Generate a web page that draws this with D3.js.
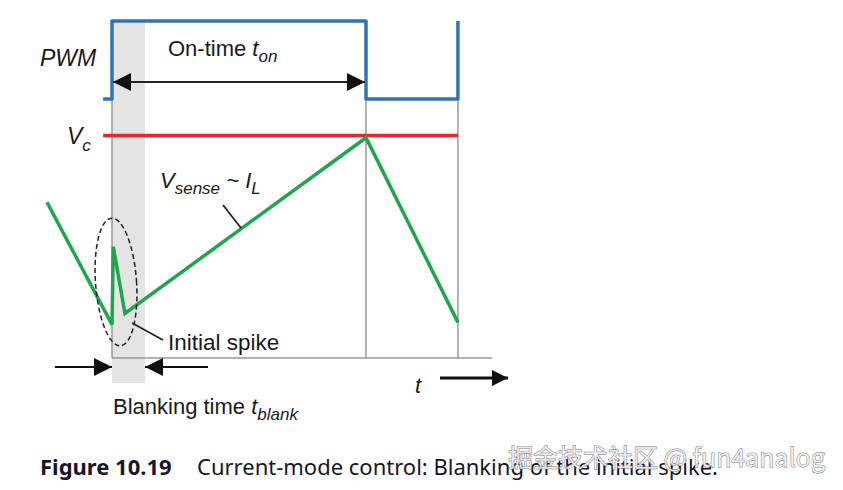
<!DOCTYPE html>
<html>
<head>
<meta charset="utf-8">
<script src="https://cdn.jsdelivr.net/npm/d3@7"></script>
<style>
  body { margin: 0; background: #fff; }
  svg text { font-family: "Liberation Sans", Arial, sans-serif; }
</style>
</head>
<body>
<div id="chart"></div>
<script>
// time is in units of the on-time (0 = switch on, 1 = switch off)
var pwmTime  = [-0.035, 0, 0, 1, 1, 1.362, 1.362],
    pwmLevel = [0, 0, 1, 1, 0, 0, 1];

var senseTime  = [-0.256, 0, 0.005, 0.051, 1, 1.362],
    senseLevel = [0.70, 0.15, 0.50, 0.20, 0.99, 0.16];

var vcLevel   = 1,
    vcSpan    = [-0.035, 1.362],
    gridTimes = [1, 1.362],
    blankSpan = [0, 0.13],
    axisSpan  = [0, 1.496];

var width = 843, height = 490;

var svg = d3.select("#chart").append("svg")
    .attr("width", width).attr("height", height);

var x = d3.scaleLinear().domain([0, 1]).range([112, 366]);
var yPwm = d3.scaleLinear().domain([0, 1]).range([99, 21]);
var ySense = d3.scaleLinear().domain([0, 1]).range([358, 135.5]);

// arrow heads
var defs = svg.append("defs");
defs.append("marker")
    .attr("id", "head")
    .attr("viewBox", "0 0 10 10")
    .attr("refX", 10).attr("refY", 5)
    .attr("markerWidth", 28).attr("markerHeight", 18)
    .attr("markerUnits", "userSpaceOnUse")
    .attr("orient", "auto-start-reverse")
  .append("path")
    .attr("d", "M0,0 L10,5 L0,10 Z")
    .attr("fill", "#111");
defs.append("marker")
    .attr("id", "headBig")
    .attr("viewBox", "0 0 10 10")
    .attr("refX", 10).attr("refY", 5)
    .attr("markerWidth", 28).attr("markerHeight", 16)
    .attr("markerUnits", "userSpaceOnUse")
    .attr("orient", "auto-start-reverse")
  .append("path")
    .attr("d", "M0,0 L10,5 L0,10 Z")
    .attr("fill", "#111");

// blanking band
svg.append("rect")
    .attr("x", x(blankSpan[0]))
    .attr("y", yPwm(1))
    .attr("width", x(blankSpan[1]) - x(blankSpan[0]))
    .attr("height", 383 - yPwm(1))
    .attr("fill", "#e4e4e4");

// grid lines and time axis
svg.append("line")
    .attr("x1", x(0)).attr("x2", x(0))
    .attr("y1", yPwm(0)).attr("y2", ySense(0))
    .attr("stroke", "#9a9a9a").attr("stroke-width", 1.5);
svg.selectAll(".grid")
  .data(gridTimes)
  .enter().append("line")
    .attr("class", "grid")
    .attr("x1", function(d) { return x(d); })
    .attr("x2", function(d) { return x(d); })
    .attr("y1", yPwm(0)).attr("y2", ySense(0))
    .attr("stroke", "#9a9a9a").attr("stroke-width", 1.5);
svg.append("line")
    .attr("x1", x(axisSpan[0])).attr("x2", x(axisSpan[1]))
    .attr("y1", ySense(0)).attr("y2", ySense(0))
    .attr("stroke", "#9a9a9a").attr("stroke-width", 1.5);

// PWM signal
var pwmLine = d3.line()
    .x(function(d) { return x(d[0]); })
    .y(function(d) { return yPwm(d[1]); });
svg.append("path")
    .attr("d", pwmLine(d3.zip(pwmTime, pwmLevel)))
    .attr("fill", "none")
    .attr("stroke", "#2f74b5")
    .attr("stroke-width", 3.5)
    .attr("stroke-linejoin", "round");

// control voltage
svg.append("line")
    .attr("x1", x(vcSpan[0])).attr("x2", x(vcSpan[1]))
    .attr("y1", ySense(vcLevel)).attr("y2", ySense(vcLevel))
    .attr("stroke", "#e8262b").attr("stroke-width", 3.5);

// current sense signal
var senseLine = d3.line()
    .x(function(d) { return x(d[0]); })
    .y(function(d) { return ySense(d[1]); });
svg.append("path")
    .attr("d", senseLine(d3.zip(senseTime, senseLevel)))
    .attr("fill", "none")
    .attr("stroke", "#1fa64c")
    .attr("stroke-width", 3.5)
    .attr("stroke-linejoin", "miter");

// dashed ellipse around spike
svg.append("ellipse")
    .attr("cx", 116).attr("cy", 282)
    .attr("rx", 20.5).attr("ry", 64)
    .attr("transform", "rotate(-4,116,282)")
    .attr("fill", "none")
    .attr("stroke", "#222")
    .attr("stroke-width", 1.5)
    .attr("stroke-dasharray", "5,3");

// on-time arrow
svg.append("line")
    .attr("x1", x(0) + 1).attr("x2", x(1) - 1)
    .attr("y1", 82).attr("y2", 82)
    .attr("stroke", "#222").attr("stroke-width", 2)
    .attr("marker-start", "url(#head)")
    .attr("marker-end", "url(#head)");

// blanking arrows
svg.append("line")
    .attr("x1", 55).attr("x2", x(blankSpan[0]))
    .attr("y1", 367).attr("y2", 367)
    .attr("stroke", "#111").attr("stroke-width", 2)
    .attr("marker-end", "url(#head)");
svg.append("line")
    .attr("x1", 208).attr("x2", x(blankSpan[1]))
    .attr("y1", 367).attr("y2", 367)
    .attr("stroke", "#111").attr("stroke-width", 2)
    .attr("marker-end", "url(#head)");

// time arrow
svg.append("line")
    .attr("x1", 440).attr("x2", 508)
    .attr("y1", 378).attr("y2", 378)
    .attr("stroke", "#111").attr("stroke-width", 3)
    .attr("marker-end", "url(#headBig)");

// pointer lines
svg.append("line")
    .attr("x1", 223).attr("y1", 205).attr("x2", 241).attr("y2", 228)
    .attr("stroke", "#222").attr("stroke-width", 1.8);
svg.append("line")
    .attr("x1", 132).attr("y1", 323).attr("x2", 163).attr("y2", 340)
    .attr("stroke", "#222").attr("stroke-width", 1.8);

// labels
var ink = "#1a1a1a";
svg.append("text").attr("x", 40).attr("y", 66)
    .attr("font-size", 23).attr("font-style", "italic").attr("fill", ink)
    .text("PWM");

var vc = svg.append("text").attr("x", 67).attr("y", 144)
    .attr("font-size", 23).attr("font-style", "italic").attr("fill", ink);
vc.append("tspan").text("V");
vc.append("tspan").attr("font-size", 17).attr("dy", 7).text("c");

var on = svg.append("text").attr("x", 168).attr("y", 56)
    .attr("font-size", 22).attr("fill", ink);
on.append("tspan").text("On-time ");
on.append("tspan").attr("font-style", "italic").text("t");
on.append("tspan").attr("font-style", "italic").attr("font-size", 17).attr("dy", 6).text("on");

var vs = svg.append("text").attr("x", 160).attr("y", 188)
    .attr("font-size", 22).attr("font-style", "italic").attr("fill", ink);
vs.append("tspan").text("V");
vs.append("tspan").attr("font-size", 17).attr("dy", 6).text("sense");
vs.append("tspan").attr("dy", -6).text(" ~ I");
vs.append("tspan").attr("font-size", 17).attr("dy", 6).text("L");

svg.append("text").attr("x", 168).attr("y", 350)
    .attr("font-size", 22.5).attr("fill", ink)
    .text("Initial spike");

svg.append("text").attr("x", 415).attr("y", 393)
    .attr("font-size", 22).attr("font-style", "italic").attr("fill", ink)
    .text("t");

var bl = svg.append("text").attr("x", 113).attr("y", 414)
    .attr("font-size", 22).attr("fill", ink);
bl.append("tspan").text("Blanking time ");
bl.append("tspan").attr("font-style", "italic").text("t");
bl.append("tspan").attr("font-style", "italic").attr("font-size", 17).attr("dy", 6).text("blank");

// caption
var cap = svg.append("text").attr("x", 40).attr("y", 475)
    .style("font-family", "'Noto Sans', sans-serif")
    .attr("font-size", 22).attr("fill", "#16162a");
cap.append("tspan").attr("font-weight", "bold").text("Figure 10.19");
cap.append("tspan").attr("x", 197).text("Current-mode control: Blanking of the initial spike.");

// watermark
svg.append("text").attr("x", 508).attr("y", 467)
    .style("font-family", "'Noto Sans CJK SC', 'Noto Sans', sans-serif")
    .attr("font-size", 25)
    .attr("fill", "#f4f4f4").attr("fill-opacity", 0.85)
    .attr("stroke", "#7a7a7a").attr("stroke-width", 0.9)
    .attr("paint-order", "stroke")
    .text("掘金技术社区 @ fun4analog");
</script>
</body>
</html>
